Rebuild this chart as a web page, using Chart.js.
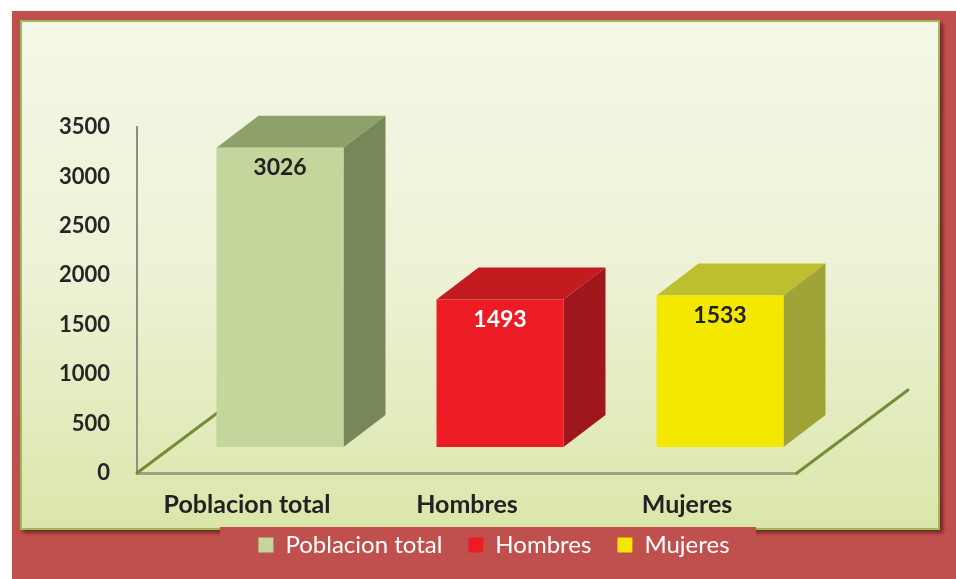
<!DOCTYPE html>
<html>
<head>
<meta charset="utf-8">
<script src="https://cdn.jsdelivr.net/npm/chart.js@4.4.0/dist/chart.umd.min.js"></script>
<style>
  html, body { margin: 0; padding: 0; background: #fff; }
  #wrap { width: 956px; height: 579px; }
</style>
</head>
<body>
<div id="wrap"><canvas id="popChart"></canvas></div>
<script>
// chart data
const categories = ['Poblacion total', 'Hombres', 'Mujeres'];
const population = [3026, 1493, 1533];
const yTicks = [0, 500, 1000, 1500, 2000, 2500, 3000, 3500];

// colours per bar: front face, top face, side face, value label
const frontColors = ['#c3d69b', '#ed1c24', '#f4e800'];
const topColors = ['#8ea16a', '#c41b21', '#bdbf2e'];
const sideColors = ['#77875a', '#9f171c', '#a0a338'];
const valueColors = ['#222222', '#ffffff', '#222222'];

// 3D look (pixels)
const DEPTH_X = 42, DEPTH_Y = -32;   // depth of each bar
const SHIFT_X = 33, SHIFT_Y = -26;   // bars stand back from the front edge of the floor
const FLOOR_X = 111, FLOOR_Y = -83;  // depth of the floor

// frame, panel and legend strip behind everything
const backdrop = {
  id: 'backdrop',
  beforeDraw(chart) {
    const ctx = chart.ctx;
    ctx.save();
    ctx.fillStyle = '#ffffff';
    ctx.fillRect(0, 0, chart.width, chart.height);
    ctx.fillStyle = '#c0504d';
    ctx.fillRect(12, 11, chart.width - 12, chart.height - 11);

    ctx.shadowColor = 'rgba(50, 0, 0, 0.55)';
    ctx.shadowOffsetX = 3;
    ctx.shadowOffsetY = 3;
    ctx.shadowBlur = 4;
    const g = ctx.createLinearGradient(0, 20, 0, 530);
    g.addColorStop(0, '#f4f7e7');
    g.addColorStop(0.5, '#edf2d5');
    g.addColorStop(1, '#dbe6aa');
    ctx.fillStyle = g;
    ctx.fillRect(20, 20, 920, 510);
    ctx.shadowColor = 'transparent';
    ctx.strokeStyle = '#9bbb59';
    ctx.lineWidth = 2;
    ctx.strokeRect(21, 21, 918, 508);

    // legend box sits over the bottom edge of the panel
    ctx.fillStyle = '#c0504d';
    ctx.fillRect(220, 527, 536, 36);
    ctx.restore();
  }
};

// floor edges + top/side faces of the bars, value labels
const box3d = {
  id: 'box3d',
  beforeDatasetsDraw(chart) {
    const ctx = chart.ctx;
    const area = chart.chartArea;
    ctx.save();
    ctx.strokeStyle = '#758d3b';
    ctx.lineWidth = 3;
    ctx.lineCap = 'round';
    [area.left, area.right].forEach(x => {
      ctx.beginPath();
      ctx.moveTo(x, area.bottom);
      ctx.lineTo(x + FLOOR_X, area.bottom + FLOOR_Y);
      ctx.stroke();
    });
    ctx.restore();

    ctx.save();
    ctx.translate(SHIFT_X, SHIFT_Y);
    chart.getDatasetMeta(0).data.forEach((bar, i) => {
      const { x, y, base, width } = bar.getProps(['x', 'y', 'base', 'width'], true);
      const l = x - width / 2, r = x + width / 2;
      ctx.fillStyle = topColors[i];
      ctx.beginPath();
      ctx.moveTo(l, y);
      ctx.lineTo(r, y);
      ctx.lineTo(r + DEPTH_X, y + DEPTH_Y);
      ctx.lineTo(l + DEPTH_X, y + DEPTH_Y);
      ctx.closePath();
      ctx.fill();
      ctx.fillStyle = sideColors[i];
      ctx.beginPath();
      ctx.moveTo(r, y);
      ctx.lineTo(r + DEPTH_X, y + DEPTH_Y);
      ctx.lineTo(r + DEPTH_X, base + DEPTH_Y);
      ctx.lineTo(r, base);
      ctx.closePath();
      ctx.fill();
    });
  },
  afterDatasetsDraw(chart) {
    const ctx = chart.ctx;
    ctx.font = 'bold 23px Lato';
    ctx.textAlign = 'center';
    ctx.textBaseline = 'middle';
    chart.getDatasetMeta(0).data.forEach((bar, i) => {
      const { x, y } = bar.getProps(['x', 'y'], true);
      ctx.fillStyle = valueColors[i];
      ctx.fillText(String(population[i]), x, y + 20);
    });
    ctx.restore();
  }
};

const ctx = document.getElementById('popChart').getContext('2d');
new Chart(ctx, {
  type: 'bar',
  data: {
    labels: categories,
    datasets: [{
      label: 'Poblacion',
      data: population,
      backgroundColor: frontColors,
      borderWidth: 0,
      barPercentage: 0.577,
      categoryPercentage: 1
    }]
  },
  options: {
    responsive: true,
    maintainAspectRatio: false,
    animation: false,
    layout: { padding: { left: 40, right: 8, top: 127, bottom: 12 } },
    scales: {
      x: {
        grid: { display: false },
        border: { color: '#9ea283', width: 3 },
        ticks: {
          // mirror keeps the labels from being clipped to the thin axis box;
          // negative padding pushes them back below the axis
          mirror: true,
          padding: -47,
          maxRotation: 0,
          color: '#222222',
          font: { family: 'Lato', weight: 'bold', size: 25 }
        },
        afterFit: s => { s.height = 34; }
      },
      y: {
        min: 0,
        max: 3500,
        afterBuildTicks: s => { s.ticks = yTicks.map(v => ({ value: v })); },
        grid: { display: false },
        border: { color: '#8e8e80', width: 2 },
        ticks: {
          padding: 19,
          color: '#262626',
          font: { family: 'Lato', weight: 'bold', size: 22 },
          callback: v => String(v)
        },
        afterFit: s => { s.width = 97; }
      },
      yRight: {
        type: 'linear',
        position: 'right',
        grid: { display: false },
        border: { display: false },
        ticks: { display: false },
        afterFit: s => { s.width = 151; }
      }
    },
    plugins: {
      tooltip: { enabled: false },
      legend: {
        position: 'bottom',
        labels: {
          boxWidth: 15,
          boxHeight: 15,
          padding: 26,
          color: '#ffffff',
          font: { family: 'Lato', size: 24 },
          generateLabels: () => categories.map((c, i) => ({
            text: c,
            fillStyle: frontColors[i],
            strokeStyle: frontColors[i],
            lineWidth: 0,
            fontColor: '#ffffff',
            hidden: false,
            index: i
          }))
        }
      }
    }
  },
  plugins: [backdrop, box3d]
});
</script>
</body>
</html>
